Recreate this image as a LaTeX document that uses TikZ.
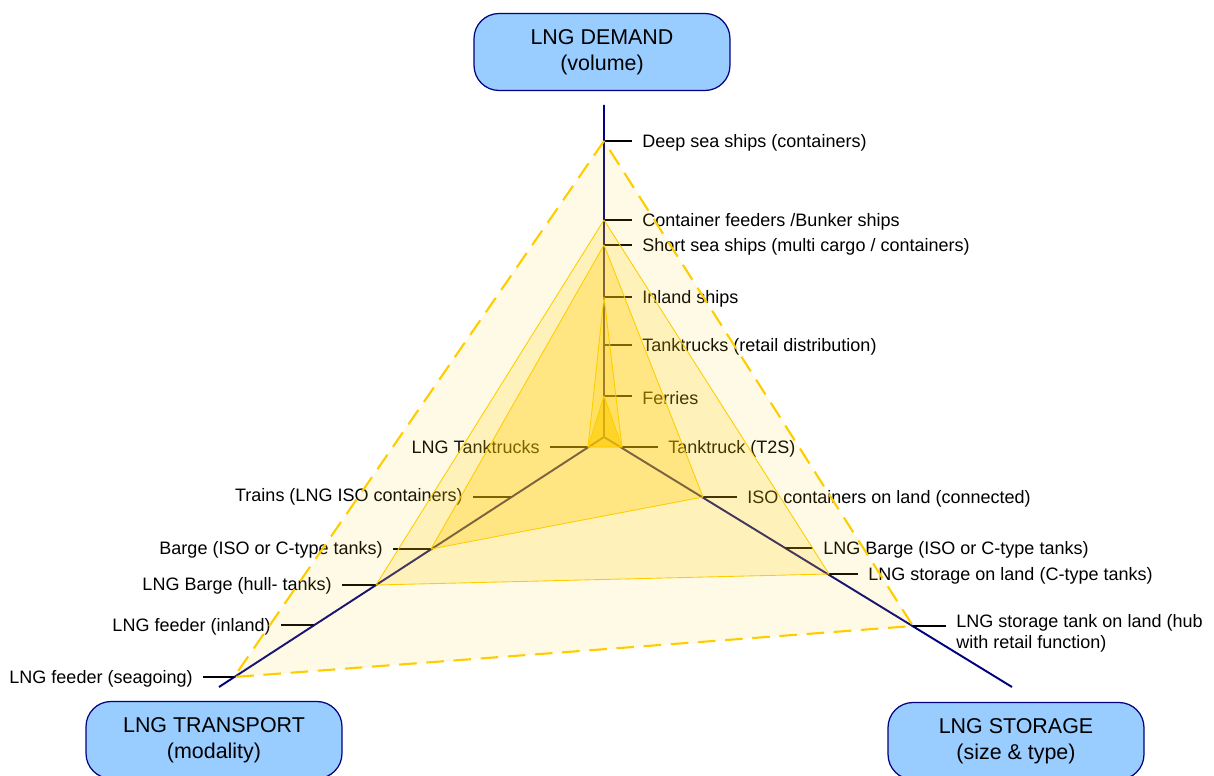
\documentclass[tikz,border=0pt]{standalone}
\usepackage{fontspec}
\setmainfont{Liberation Sans}

\definecolor{axisnavy}{HTML}{000080}
\definecolor{boxblue}{HTML}{99CCFF}
\definecolor{lnggold}{HTML}{FFCC00}

\tikzstyle{dimbox} = [draw=axisnavy, fill=boxblue, line width=0.7pt,
    rectangle, rounded corners=0.5cm, minimum width=5.12cm, minimum height=1.54cm,
    align=center, font=\fontsize{12.2}{14.7}\selectfont]
\tikzstyle{axisline} = [draw=axisnavy, line width=1.1pt, line join=round]
\tikzstyle{tickline} = [draw=black, line width=1.1pt]
\tikzstyle{lbl} = [inner xsep=0.2cm, inner ysep=0pt, yshift=-0.04cm, font=\fontsize{10.25}{11.9}\selectfont]
\tikzstyle{layer} = [draw=lnggold, line width=0.5pt, fill=lnggold, line join=round]
\tikzstyle{outerlayer} = [layer, line width=1.2pt, dash pattern=on 10pt off 5.5pt, fill opacity=0.1]

\begin{document}
\begin{tikzpicture}[x=0.02cm, y=-0.02cm]
\useasboundingbox (0,0) rectangle (1214,776);
\clip (0,0) rectangle (1214,776);

%------------ Dimensions ---------------------
\node[dimbox] (demand) at (602,52) {LNG DEMAND\\(volume)};
\node[dimbox] (transport) at (214,740) {LNG TRANSPORT\\(modality)};
\node[dimbox] (storage) at (1016,741) {LNG STORAGE\\(size \& type)};

%------------ Axes ---------------------
\coordinate (ctr) at (604,437);
\coordinate (dtop) at (604,105);
\coordinate (tend) at (219,687);
\coordinate (send) at (1012,687);
\draw[axisline] (dtop) -- (ctr) -- (tend) (ctr) -- (send);

% demand axis
\coordinate (d1) at (604,141);
\coordinate (d2) at (604,220);
\coordinate (d3) at (604,245);
\coordinate (d4) at (604,297);
\coordinate (d5) at (604,345);
\coordinate (d6) at (604,396);
% transport axis
\coordinate (t0) at (588,447);
\coordinate (t1) at (511,497);
\coordinate (t2) at (431,549);
\coordinate (t3) at (376,585);
\coordinate (t4) at (314,625);
\coordinate (t5) at (234,677);
% storage axis
\coordinate (s0) at (622,447);
\coordinate (s1) at (703,497);
\coordinate (s2) at (785,548);
\coordinate (s3) at (829,574);
\coordinate (s4) at (913,626);

%------------ Labels demand ---------------------
\node[lbl, anchor=west] (dss) at (632,141) {Deep sea ships (containers)};
\node[lbl, anchor=west] (cfb) at (632,220) {Container feeders /Bunker ships};
\node[lbl, anchor=west] (sss) at (632,245) {Short sea ships (multi cargo / containers)};
\node[lbl, anchor=west] (ins) at (632,297) {Inland ships};
\node[lbl, anchor=west] (trd) at (632,345) {Tanktrucks (retail distribution)};
\node[lbl, anchor=west] (fer) at (632,396) {Ferries};
\draw[tickline] (d1) -- (d1 -| dss.west);
\draw[tickline] (d2) -- (d2 -| cfb.west);
\draw[tickline] (d3) -- (d3 -| sss.west);
\draw[tickline] (d4) -- (d4 -| ins.west);
\draw[tickline] (d5) -- (d5 -| trd.west);
\draw[tickline] (d6) -- (d6 -| fer.west);

%------------ Labels transport ---------------------
\node[lbl, anchor=east] (ltt) at (550,445) {LNG Tanktrucks};
\node[lbl, anchor=east] (trn) at (473,495) {Trains (LNG ISO containers)};
\node[lbl, anchor=east] (bis) at (393,548) {Barge (ISO or C-type tanks)};
\node[lbl, anchor=east] (lbh) at (342,584) {LNG Barge (hull- tanks)};
\node[lbl, anchor=east] (lfi) at (281,625) {LNG feeder (inland)};
\node[lbl, anchor=east] (lfs) at (203,677) {LNG feeder (seagoing)};
\draw[tickline] (t0) -- (t0 -| ltt.east);
\draw[tickline] (t1) -- (t1 -| trn.east);
\draw[tickline] (t2) -- (t2 -| bis.east);
\draw[tickline] (t3) -- (t3 -| lbh.east);
\draw[tickline] (t4) -- (t4 -| lfi.east);
\draw[tickline] (t5) -- (t5 -| lfs.east);

%------------ Labels storage ---------------------
\node[lbl, anchor=west] (tts) at (658,447) {Tanktruck (T2S)};
\node[lbl, anchor=west] (isoc) at (737,497) {ISO containers on land (connected)};
\node[lbl, anchor=west] (lbi) at (813,548) {LNG Barge (ISO or C-type tanks)};
\node[lbl, anchor=west] (slc) at (858,574) {LNG storage on land (C-type tanks)};
\node[lbl, anchor=west, align=left] (hub) at (946,631) {LNG storage tank on land (hub\\with retail function)};
\draw[tickline] (s0) -- (s0 -| tts.west);
\draw[tickline] (s1) -- (s1 -| isoc.west);
\draw[tickline] (s2) -- (s2 -| lbi.west);
\draw[tickline] (s3) -- (s3 -| slc.west);
\draw[tickline] (s4) -- (s4 -| hub.west);

%------------ Profiles ---------------------
\path[outerlayer] (d1) -- (t5) -- (s4) -- cycle;
\path[layer, fill opacity=0.19] (d2) -- (t3) -- (s3) -- cycle;
\path[layer, fill opacity=0.3] (d3) -- (t2) -- (s1) -- cycle;
\path[layer, fill opacity=0.24] (d4) -- (t0) -- (s0) -- cycle;
\path[layer, fill opacity=0.6] (d6) -- (t0) -- (s0) -- cycle;
\end{tikzpicture}
\end{document}
